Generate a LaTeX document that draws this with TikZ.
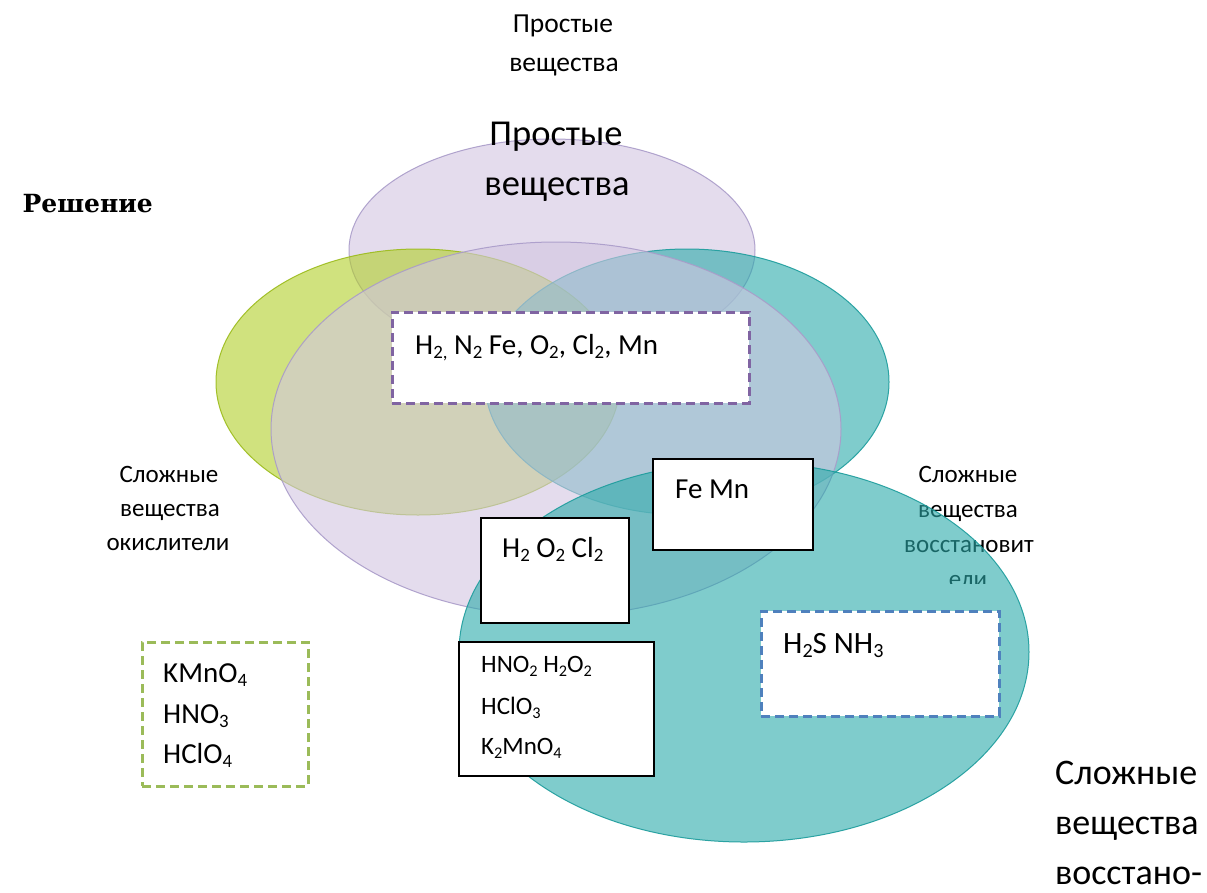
\documentclass[tikz,border=0pt]{standalone}
\usepackage{fontspec}
\setmainfont{Carlito}
\newfontfamily\serifb{DejaVu Serif}
\usetikzlibrary{shapes.geometric}
\definecolor{lavfill}{HTML}{D2C6E1}
\definecolor{lavdraw}{HTML}{A99BC9}
\definecolor{grnfill}{HTML}{B1CF28}
\definecolor{grndraw}{HTML}{9BBB1A}
\definecolor{tealfill}{HTML}{2BAAAA}
\definecolor{tealdraw}{HTML}{1C9C9C}
\definecolor{dpurple}{HTML}{8064A2}
\definecolor{dgreen}{HTML}{9BBB59}
\definecolor{dblue}{HTML}{4F81BD}
\newcommand\chsub[1]{\raisebox{-0.16em}{\scalebox{0.65}{#1}}}
\tikzset{
  venn/.style={ellipse, inner sep=0pt, fill opacity=0.6, draw opacity=0.9, line width=1pt},
  txt/.style={inner sep=0pt, anchor=base},
  ltxt/.style={inner sep=0pt, anchor=base west},
  fsm/.style={font=\fontsize{25}{30}\selectfont},
  ftop/.style={font=\fontsize{27.5}{33}\selectfont},
  fbig/.style={font=\fontsize{36.5}{44}\selectfont},
  fbox/.style={font=\fontsize{29}{35}\selectfont},
  fmid/.style={font=\fontsize{25}{30}\selectfont},
  solidbox/.style={draw=black, fill=white, line width=2.2pt, inner sep=0pt},
  dashbox/.style={fill=white, line width=3pt, dash pattern=on 9pt off 5pt, inner sep=0pt},
}
\begin{document}
\begin{tikzpicture}[x=1pt,y=-1pt]
\useasboundingbox (0,0) rectangle (1207,892);
\fill[white] (0,0) rectangle (1207,892);

% Venn ellipses
\node[venn, fill=lavfill, draw=lavdraw, minimum width=406pt, minimum height=222pt] (etop) at (552,250) {};
\node[venn, fill=grnfill, draw=grndraw, minimum width=404pt, minimum height=266pt] (egreen) at (418,382) {};
\node[venn, fill=tealfill, draw=tealdraw, minimum width=404pt, minimum height=266pt] (eteal) at (687,382) {};
\node[venn, fill=lavfill, draw=lavdraw, minimum width=570pt, minimum height=374pt] (elav) at (556,429) {};

% right text partly under the lower ellipse
\begin{scope}
\clip (880,440) rectangle (1060,583);
\node[txt, fsm] (r1) at (968,482) {Сложные};
\node[txt, fsm] (r2) at (968,517) {вещества};
\node[txt, fsm] (r3) at (969,552) {восстановит};
\node[txt, fsm] (r4) at (968,587) {ели};
\end{scope}

\node[venn, fill=tealfill, draw=tealdraw, minimum width=570pt, minimum height=380pt] (elow) at (744,652) {};

% titles
\node[txt, ftop] (t1) at (563,32) {Простые};
\node[txt, ftop] (t2) at (564,71) {вещества};
\node[txt, fbig] (b1) at (556,145) {Простые};
\node[txt, fbig] (b2) at (557,195) {вещества};
\node[inner sep=0pt, anchor=base east, font=\serifb\bfseries\fontsize{25}{30}\selectfont] (sol) at (153,212) {Решение};

\node[txt, fsm] (l1) at (169,482) {Сложные};
\node[txt, fsm] (l2) at (170,516) {вещества};
\node[txt, fsm] (l3) at (168,550) {окислители};

% boxes
\node[dashbox, draw=dpurple, minimum width=357pt, minimum height=91pt] (bx1) at (570.5,357.5) {};
\node[ltxt, fbox] (bx1t) at (415,354) {H\chsub{2,} N\chsub{2} Fe, O\chsub{2}, Cl\chsub{2}, Mn};

\node[solidbox, minimum width=160pt, minimum height=91pt] (bxfe) at (733,504.5) {};
\node[ltxt, fbox] (bxfet) at (675,498) {Fe Mn};

\node[solidbox, minimum width=148pt, minimum height=105pt] (bxh) at (555,570.5) {};
\node[ltxt, fbox] (bxht) at (502,557) {H\chsub{2} O\chsub{2} Cl\chsub{2}};

\node[solidbox, minimum width=195pt, minimum height=134pt] (bxn) at (556.5,709) {};
\node[ltxt, fmid] (bxn1) at (481,672) {HNO\chsub{2} H\chsub{2}O\chsub{2}};
\node[ltxt, fmid] (bxn2) at (481,714) {HClO\chsub{3}};
\node[ltxt, fmid] (bxn3) at (481,754) {K\chsub{2}MnO\chsub{4}};

\node[dashbox, draw=dblue, minimum width=238pt, minimum height=105pt] (bxs) at (880,663.5) {};
\node[ltxt, font=\fontsize{31}{37}\selectfont] (bxst) at (783,653) {H\chsub{2}S NH\chsub{3}};

\node[dashbox, draw=dgreen, minimum width=166pt, minimum height=144pt] (bxk) at (225,714) {};
\node[ltxt, fbox] (bxk1) at (163,682) {KMnO\chsub{4}};
\node[ltxt, fbox] (bxk2) at (163,723) {HNO\chsub{3}};
\node[ltxt, fbox] (bxk3) at (163,763) {HClO\chsub{4}};

% bottom right text
\node[ltxt, font=\fontsize{36}{44}\selectfont] (br1) at (1055,784) {Сложные};
\node[ltxt, font=\fontsize{36}{44}\selectfont] (br2) at (1055,834) {вещества};
\node[ltxt, font=\fontsize{36}{44}\selectfont] (br3) at (1055,884) {восстано-};
\end{tikzpicture}
\end{document}
